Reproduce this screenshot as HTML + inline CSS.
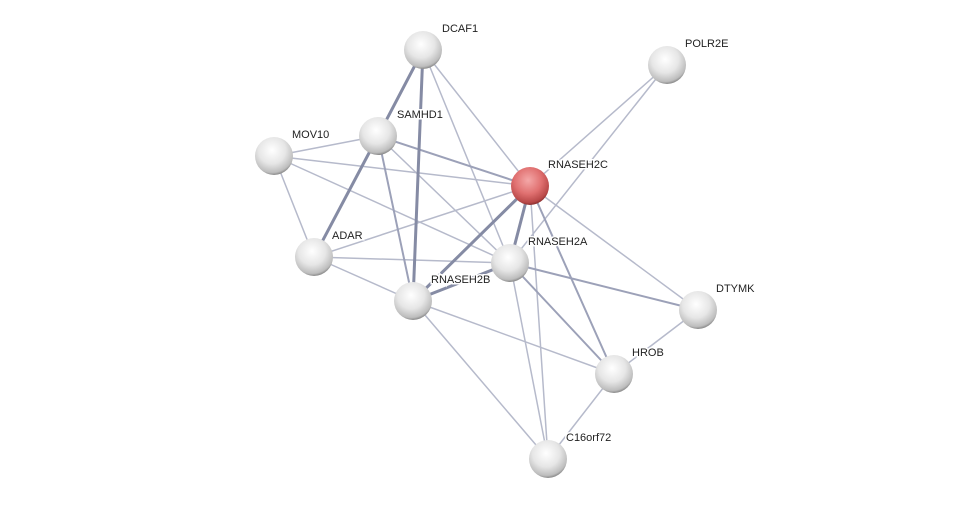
<!DOCTYPE html>
<html><head><meta charset="utf-8"><style>
html,body{margin:0;padding:0;background:#fff;}
svg{display:block}
text{font-family:"Liberation Sans",sans-serif;font-size:11px;fill:#222;paint-order:stroke;stroke:#fff;stroke-width:3px}
</style></head><body>
<svg width="976" height="505" viewBox="0 0 976 505" xmlns="http://www.w3.org/2000/svg">
<defs>
<radialGradient id="g" cx="45%" cy="35%" r="65%">
<stop offset="0" stop-color="#ffffff"/><stop offset="0.55" stop-color="#e6e6e6"/><stop offset="0.9" stop-color="#bdbdbd"/><stop offset="1" stop-color="#8a8a8a"/>
</radialGradient>
<radialGradient id="r" cx="45%" cy="35%" r="65%">
<stop offset="0" stop-color="#f4a8a8"/><stop offset="0.55" stop-color="#e07070"/><stop offset="0.9" stop-color="#b84848"/><stop offset="1" stop-color="#8a3030"/>
</radialGradient>
</defs>
<g stroke-linecap="round">
<g stroke="#b6bacb" stroke-width="1.5">
<line x1="423" y1="50" x2="530" y2="186"/>
<line x1="423" y1="50" x2="510" y2="263"/>
<line x1="667" y1="65" x2="530" y2="186"/>
<line x1="667" y1="65" x2="510" y2="263"/>
<line x1="274" y1="156" x2="378" y2="136"/>
<line x1="274" y1="156" x2="530" y2="186"/>
<line x1="274" y1="156" x2="314" y2="257"/>
<line x1="274" y1="156" x2="510" y2="263"/>
<line x1="378" y1="136" x2="510" y2="263"/>
<line x1="530" y1="186" x2="314" y2="257"/>
<line x1="530" y1="186" x2="698" y2="310"/>
<line x1="530" y1="186" x2="548" y2="459"/>
<line x1="314" y1="257" x2="510" y2="263"/>
<line x1="314" y1="257" x2="413" y2="301"/>
<line x1="510" y1="263" x2="548" y2="459"/>
<line x1="413" y1="301" x2="614" y2="374"/>
<line x1="413" y1="301" x2="548" y2="459"/>
<line x1="698" y1="310" x2="614" y2="374"/>
<line x1="614" y1="374" x2="548" y2="459"/>
</g>
<g stroke="#9ca1b8" stroke-width="2">
<line x1="378" y1="136" x2="413" y2="301"/>
<line x1="378" y1="136" x2="530" y2="186"/>
<line x1="530" y1="186" x2="614" y2="374"/>
<line x1="510" y1="263" x2="614" y2="374"/>
<line x1="510" y1="263" x2="698" y2="310"/>
</g>
<g stroke="#858ba4" stroke-width="3">
<line x1="423" y1="50" x2="378" y2="136"/>
<line x1="423" y1="50" x2="413" y2="301"/>
<line x1="378" y1="136" x2="314" y2="257"/>
<line x1="530" y1="186" x2="510" y2="263"/>
<line x1="530" y1="186" x2="413" y2="301"/>
<line x1="510" y1="263" x2="413" y2="301"/>
</g>
</g>
<g>
<circle cx="423" cy="50" r="19" fill="url(#g)"/>
<circle cx="667" cy="65" r="19" fill="url(#g)"/>
<circle cx="378" cy="136" r="19" fill="url(#g)"/>
<circle cx="274" cy="156" r="19" fill="url(#g)"/>
<circle cx="530" cy="186" r="19" fill="url(#r)"/>
<circle cx="314" cy="257" r="19" fill="url(#g)"/>
<circle cx="510" cy="263" r="19" fill="url(#g)"/>
<circle cx="413" cy="301" r="19" fill="url(#g)"/>
<circle cx="698" cy="310" r="19" fill="url(#g)"/>
<circle cx="614" cy="374" r="19" fill="url(#g)"/>
<circle cx="548" cy="459" r="19" fill="url(#g)"/>
</g>
<text x="442" y="32">DCAF1</text>
<text x="685" y="47">POLR2E</text>
<text x="397" y="118">SAMHD1</text>
<text x="292" y="138">MOV10</text>
<text x="548" y="168">RNASEH2C</text>
<text x="332" y="239">ADAR</text>
<text x="528" y="245">RNASEH2A</text>
<text x="431" y="283">RNASEH2B</text>
<text x="716" y="292">DTYMK</text>
<text x="632" y="356">HROB</text>
<text x="566" y="441">C16orf72</text>
</svg>
</body></html>
